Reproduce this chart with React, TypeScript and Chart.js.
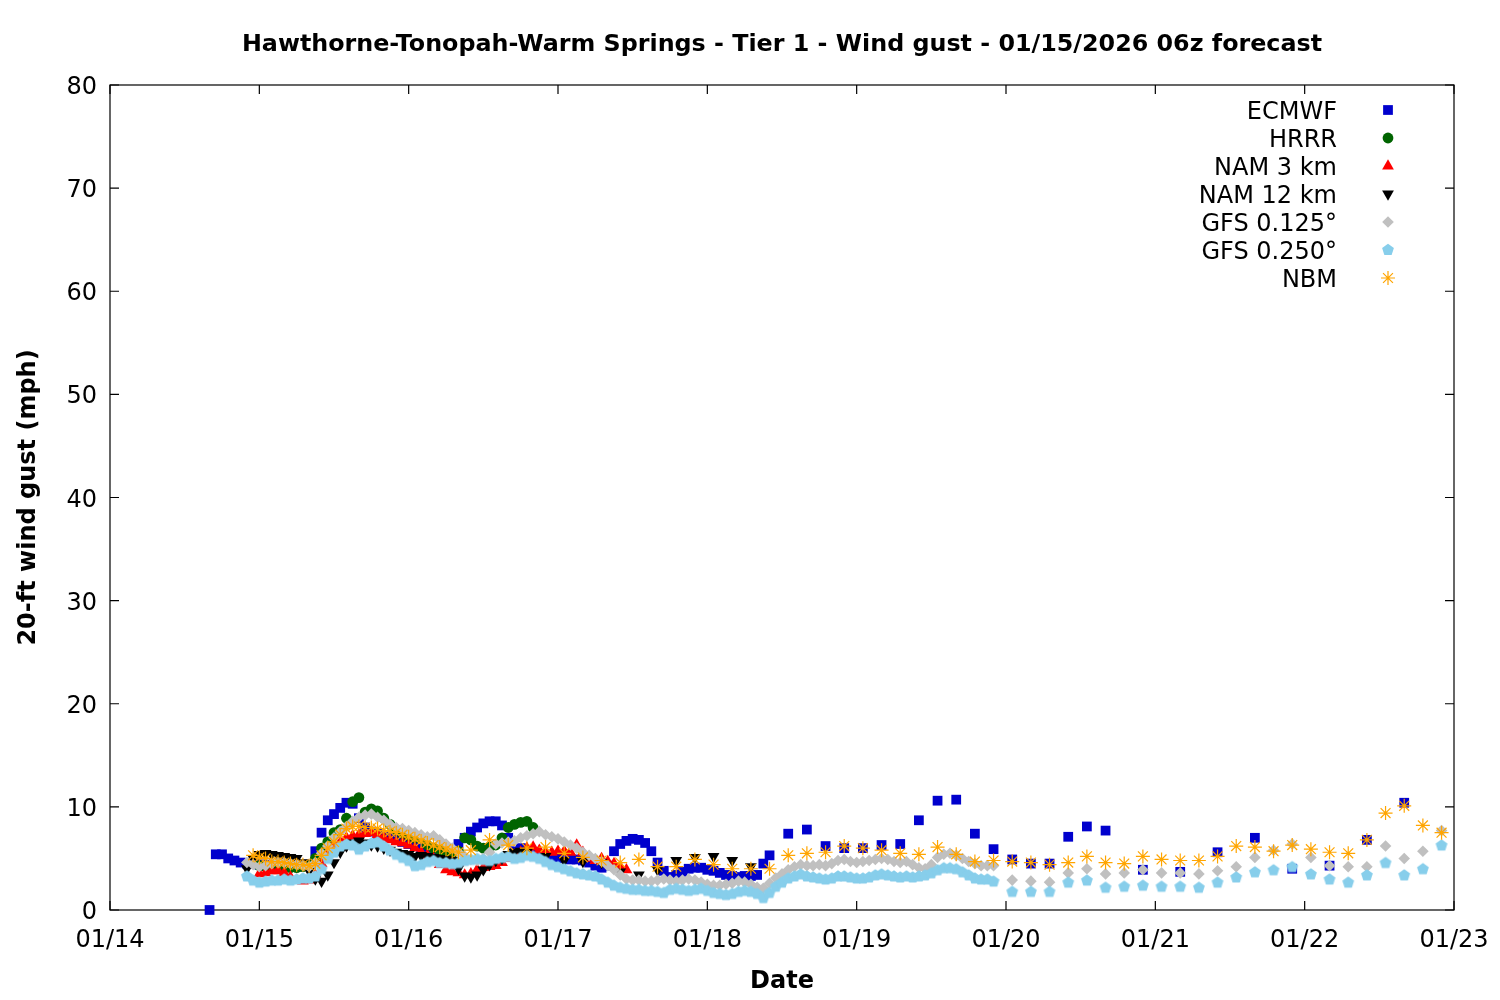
import React, { useEffect, useRef } from 'react';
import { Chart, registerables } from 'chart.js';

Chart.register(...registerables);

const TITLE = 'Hawthorne-Tonopah-Warm Springs - Tier 1 - Wind gust - 01/15/2026 06z forecast';
const X_TITLE = 'Date';
const Y_TITLE = '20-ft wind gust (mph)';
const dateLabels = ['01/14', '01/15', '01/16', '01/17', '01/18', '01/19', '01/20', '01/21', '01/22', '01/23'];
const yTicks = [0, 10, 20, 30, 40, 50, 60, 70, 80];
const HOURS_PER_DAY = 24;

// x values are hours since 01/14 00z
// ECMWF
const ecmwfHourlyStart = 16;
const ecmwfHourly = [
  0, 5.4, 5.4, 5.0, 4.8, 4.6, 4.5, 4.5, 4.4, 4.4, 4.3, 4.3, 4.2, 4.2, 4.2, 4.3, 4.4,
  5.7, 7.5, 8.7, 9.3, 9.9, 10.4, 10.3, 8.9, 8.0, 7.6, 7.4, 7.2, 7.0, 6.8, 6.6, 6.4,
  6.2, 6.0, 5.8, 5.7, 5.6, 5.6, 5.8, 6.4, 7.0, 7.6, 8.0, 8.4, 8.6, 8.6, 8.2, 7.0,
  5.7, 6.0, 5.6, 5.5, 5.4, 5.3, 5.2, 5.1, 5.0, 4.9, 4.9, 4.8, 4.6, 4.3, 4.1, 4.3,
  5.7, 6.4, 6.7, 6.9, 6.8, 6.5, 5.7, 4.6, 3.8, 3.2, 3.4, 3.7, 4.0, 4.1, 4.1, 3.9,
  3.8, 3.6, 3.4, 3.3, 3.2, 3.3, 3.3, 3.4, 4.5, 5.3,
];
const ecmwf3hStart = 109;
const ecmwf3h = [7.4, 7.8, 6.2, 6.0, 6.0, 6.3, 6.4, 8.7, 10.6, 10.7, 7.4, 5.9, 4.9, 4.5, 4.5, 7.1, 8.1, 7.7];
const ecmwf6hStart = 166;
const ecmwf6h = [3.9, 3.7, 5.6, 7.0, 4.0, 4.3, 6.8, 10.4];

// HRRR
const hrrrStart = 24;
const hrrrHourly = [
  4.3, 4.2, 4.0, 4.0, 4.1, 4.1, 4.1, 4.2, 4.3, 5.0, 6.0, 6.6, 7.5, 7.8, 8.9, 10.5,
  10.9, 9.5, 9.8, 9.6, 8.9, 8.3, 7.8, 7.4, 7.2, 7.0, 7.0, 6.3, 6.0, 5.8, 5.6, 5.5,
  5.7, 7.0, 6.8, 6.2, 6.0, 6.1, 6.3, 7.0, 8.0, 8.3, 8.5, 8.6, 8.0,
];

// NAM 3 km
const nam3Start = 24;
const nam3Hourly = [
  3.5, 3.6, 3.8, 3.8, 3.6, 3.2, 2.9, 2.8, 2.9, 3.4,
  4.5, 5.6, 6.3, 6.6, 7.0, 7.2, 7.3, 7.4, 7.5, 7.3,
  7.0, 6.8, 6.6, 6.5, 6.3, 6.0, 5.6, 5.3, 5.0, 4.4,
  3.9, 3.7, 3.6, 3.4, 3.5, 3.9, 4.1, 4.2, 4.3, 4.6,
  5.0, 5.3, 5.6, 6.0, 6.1, 5.8, 5.6, 5.6, 5.7, 5.7,
  5.6, 6.3, 5.6, 5.0, 4.8, 5.0, 4.7, 4.5, 4.2, 3.9,
];

// NAM 12 km
const nam12Start = 22;
const nam12Hourly = [
  4.0, 5.0, 5.4, 5.5, 5.4, 5.3, 5.2, 5.1, 5.0, 4.6,
  3.8, 3.0, 2.8, 3.4, 4.6, 5.6, 6.2, 6.5, 6.7, 6.5,
  6.3, 6.2, 6.0, 5.8, 5.6, 5.5, 5.4, 5.2, 5.3, 5.2,
  5.1, 5.0, 4.9, 4.8, 4.0, 3.3, 3.2, 3.4, 3.9, 4.4,
  4.8, 5.0, 5.4, 5.6, 5.7, 5.6,
];
const nam12_3hStart = 70;
const nam12_3h = [5.2, 4.8, 4.7, 4.6, 3.7, 3.4, 3.9, 4.8, 5.1, 5.2, 4.8, 4.2];

// GFS 0.125
const gfs125Start = 22;
const gfs125Hourly = [
  4.6, 4.4, 4.2, 4.3, 4.5, 4.6, 4.6, 4.5, 4.4, 4.3, 4.2,
  4.6, 5.5, 6.2, 7.0, 7.6, 8.1, 8.6, 9.0, 9.2, 9.3,
  9.0, 8.7, 8.3, 8.0, 7.9, 7.7, 7.5, 7.3, 7.1, 7.2,
  6.8, 6.4, 6.0, 5.6, 5.2, 4.9, 4.8, 5.0, 5.6, 6.4,
  6.5, 6.6, 6.7, 7.0, 7.2, 7.4, 7.6, 7.3, 7.1, 6.9,
  6.6, 6.3, 6.0, 5.6, 5.3, 5.0, 4.7, 4.3, 3.9, 3.4,
  3.0, 2.9, 2.9, 2.8, 2.8, 2.9, 3.0, 2.9, 2.8, 2.9,
  3.0, 2.9, 2.7, 2.5, 2.4, 2.4, 2.5, 2.6, 2.8, 2.7,
  2.5, 2.2, 2.1, 2.6, 3.1, 3.5, 3.9, 4.2, 4.4, 4.3,
  4.3, 4.4, 4.3, 4.5, 4.8, 4.9, 4.7, 4.6, 4.7, 4.8,
  4.9, 5.0, 4.9, 4.7, 4.6, 4.7, 4.4, 4.1, 4.0, 4.4,
  5.1, 5.4, 5.5, 5.3, 5.0, 4.7, 4.5, 4.3, 4.3, 4.3,
];
const gfs125_3hStart = 145;
const gfs125_3h = [2.9, 2.8, 2.7, 3.6, 4.0, 3.5, 3.6, 3.9, 3.6, 3.6, 3.5, 3.8, 4.2, 5.1, 5.8, 6.4, 5.1, 4.3, 4.2, 4.2, 6.2, 5.0, 5.7, 7.7];

// GFS 0.250
const gfs250Start = 22;
const gfs250Hourly = [
  3.3, 2.9, 2.7, 2.8, 2.9, 2.9, 3.0, 2.9, 3.0, 3.1, 3.1,
  3.3, 4.0, 5.0, 5.6, 6.2, 6.4, 6.3, 5.9, 6.2, 6.5,
  6.6, 6.2, 5.8, 5.4, 5.1, 4.8, 4.3, 4.4, 4.7, 4.8,
  4.6, 4.6, 4.5, 4.6, 4.8, 4.9, 5.0, 4.9, 4.8, 5.0,
  5.1, 5.2, 5.0, 5.1, 5.3, 5.2, 5.0, 4.7, 4.4, 4.2,
  4.0, 3.8, 3.6, 3.5, 3.4, 3.3, 3.0, 2.7, 2.4, 2.2,
  2.1, 2.0, 2.0, 1.9, 1.9, 1.8, 1.7, 2.0, 2.1, 2.0,
  1.9, 2.0, 2.1, 1.9, 1.7, 1.6, 1.5, 1.6, 1.8, 1.9,
  1.8, 1.6, 1.2, 1.7, 2.3, 2.7, 3.1, 3.3, 3.5, 3.3,
  3.2, 3.1, 3.0, 3.1, 3.3, 3.3, 3.2, 3.1, 3.1, 3.2,
  3.4, 3.5, 3.4, 3.3, 3.2, 3.3, 3.2, 3.3, 3.4, 3.6,
  3.9, 4.1, 4.1, 4.0, 3.7, 3.4, 3.1, 3.0, 3.0, 2.8,
];
const gfs250_3hStart = 145;
const gfs250_3h = [1.8, 1.8, 1.8, 2.7, 2.9, 2.2, 2.3, 2.4, 2.3, 2.3, 2.2, 2.7, 3.2, 3.7, 3.9, 4.2, 3.5, 3.0, 2.7, 3.4, 4.6, 3.4, 4.0, 6.3];

// NBM
const nbmStart = 23;
const nbmHourly = [
  5.3, 5.1, 5.0, 4.7, 4.7, 4.6, 4.5, 4.4, 4.4, 4.3,
  4.5, 5.3, 6.0, 6.6, 7.3, 7.9, 8.1, 8.1, 8.0, 8.0,
  7.9, 7.7, 7.6, 7.5, 7.3, 7.1, 6.9, 6.7, 6.5, 6.3,
  6.1, 5.9, 5.7, 5.6,
];
const nbm3hStart = 58;
const nbm3h = [
  5.8, 6.8, 6.3, 6.0, 6.1, 5.5, 5.1, 4.8, 4.6, 4.9,
  4.2, 4.2, 4.9, 4.4, 4.0, 4.0, 4.0, 5.3, 5.5, 5.6,
  6.2, 6.0, 5.8, 5.5, 5.4, 6.1, 5.4, 4.7, 4.8, 4.7,
  4.6, 4.4, 4.6, 5.2, 4.6, 4.5, 5.2, 4.9, 4.8, 4.8,
  5.2, 6.2, 6.1, 5.7, 6.3, 5.9, 5.6, 5.5, 6.8, 9.4,
  10.1, 8.2, 7.5,
];

const FONT = "'DejaVu Sans', sans-serif";

type Pt = { x: number; y: number };
const seg = (start: number, step: number, values: number[]): Pt[] =>
  values.map((v, i) => ({ x: start + i * step, y: v }));

type Kind = 'square' | 'circle' | 'triUp' | 'triDown' | 'diamond' | 'pentagon' | 'star';

const seriesDefs: { label: string; color: string; kind: Kind; data: Pt[] }[] = [
  { label: 'ECMWF', color: '#0000cd', kind: 'square', data: [...seg(ecmwfHourlyStart, 1, ecmwfHourly), ...seg(ecmwf3hStart, 3, ecmwf3h), ...seg(ecmwf6hStart, 6, ecmwf6h)] },
  { label: 'HRRR', color: '#006400', kind: 'circle', data: seg(hrrrStart, 1, hrrrHourly) },
  { label: 'NAM 3 km', color: '#ff0000', kind: 'triUp', data: seg(nam3Start, 1, nam3Hourly) },
  { label: 'NAM 12 km', color: '#000000', kind: 'triDown', data: [...seg(nam12Start, 1, nam12Hourly), ...seg(nam12_3hStart, 3, nam12_3h)] },
  { label: 'GFS 0.125°', color: '#c0c0c0', kind: 'diamond', data: [...seg(gfs125Start, 1, gfs125Hourly), ...seg(gfs125_3hStart, 3, gfs125_3h)] },
  { label: 'GFS 0.250°', color: '#87ceeb', kind: 'pentagon', data: [...seg(gfs250Start, 1, gfs250Hourly), ...seg(gfs250_3hStart, 3, gfs250_3h)] },
  { label: 'NBM', color: '#ffa500', kind: 'star', data: [...seg(nbmStart, 1, nbmHourly), ...seg(nbm3hStart, 3, nbm3h)] },
];

const SQ = 6.9;   // rect radius (side = SQ*sqrt2)
const CIR = 5.4;
const TRI = 6.8;
const DIA = 5.8;
const PEN = 6.2;
const STAR = 7;

function drawMarker(ctx: CanvasRenderingContext2D, kind: Kind, x: number, y: number, color: string) {
  ctx.save();
  ctx.fillStyle = color;
  ctx.strokeStyle = color;
  ctx.beginPath();
  if (kind === 'square') {
    const h = SQ * Math.SQRT1_2;
    ctx.rect(x - h, y - h, 2 * h, 2 * h);
    ctx.fill();
  } else if (kind === 'circle') {
    ctx.arc(x, y, CIR, 0, Math.PI * 2);
    ctx.fill();
  } else if (kind === 'triUp' || kind === 'triDown') {
    const r = TRI;
    const s = kind === 'triUp' ? -1 : 1;
    ctx.moveTo(x, y + s * r);
    ctx.lineTo(x + r * 0.866, y - s * r * 0.5);
    ctx.lineTo(x - r * 0.866, y - s * r * 0.5);
    ctx.closePath();
    ctx.fill();
  } else if (kind === 'diamond') {
    ctx.moveTo(x, y - DIA);
    ctx.lineTo(x + DIA, y);
    ctx.lineTo(x, y + DIA);
    ctx.lineTo(x - DIA, y);
    ctx.closePath();
    ctx.fill();
  } else if (kind === 'pentagon') {
    for (let k = 0; k < 5; k++) {
      const a = -Math.PI / 2 + (k * 2 * Math.PI) / 5;
      const px = x + PEN * Math.cos(a);
      const py = y + PEN * Math.sin(a);
      if (k === 0) ctx.moveTo(px, py);
      else ctx.lineTo(px, py);
    }
    ctx.closePath();
    ctx.fill();
  } else if (kind === 'star') {
    const r = STAR;
    const d = r * Math.SQRT1_2;
    ctx.lineWidth = 1.2;
    ctx.moveTo(x - r, y); ctx.lineTo(x + r, y);
    ctx.moveTo(x, y - r); ctx.lineTo(x, y + r);
    ctx.moveTo(x - d, y - d); ctx.lineTo(x + d, y + d);
    ctx.moveTo(x - d, y + d); ctx.lineTo(x + d, y - d);
    ctx.stroke();
  }
  ctx.restore();
}

function makePentagon(color: string): HTMLCanvasElement {
  const c = document.createElement('canvas');
  c.width = 14;
  c.height = 14;
  const g = c.getContext('2d')!;
  drawMarker(g, 'pentagon', 7, 7.4, color);
  return c;
}

const decorPlugin = {
  id: 'decor',
  beforeDatasetsDraw(chart: any) {
    const { ctx, chartArea: a, scales } = chart;
    const xs = scales.x;
    const ys = scales.y;
    ctx.save();
    ctx.strokeStyle = '#000';
    ctx.lineWidth = 1.2;
    ctx.strokeRect(a.left, a.top, a.right - a.left, a.bottom - a.top);
    const tl = 9;
    ctx.beginPath();
    dateLabels.forEach((_, i) => {
      const px = xs.getPixelForValue(i * HOURS_PER_DAY);
      ctx.moveTo(px, a.bottom); ctx.lineTo(px, a.bottom - tl);
      ctx.moveTo(px, a.top); ctx.lineTo(px, a.top + tl);
    });
    yTicks.forEach((v) => {
      const py = ys.getPixelForValue(v);
      ctx.moveTo(a.left, py); ctx.lineTo(a.left + tl, py);
      ctx.moveTo(a.right, py); ctx.lineTo(a.right - tl, py);
    });
    ctx.stroke();
    ctx.restore();
  },
  afterDraw(chart: any) {
    const { ctx, chartArea: a, scales } = chart;
    const xs = scales.x;
    const ys = scales.y;
    ctx.save();
    ctx.fillStyle = '#000';
    ctx.textBaseline = 'alphabetic';
    ctx.font = `24px ${FONT}`;
    ctx.textAlign = 'center';
    dateLabels.forEach((lab, i) => {
      ctx.fillText(lab, xs.getPixelForValue(i * HOURS_PER_DAY), a.bottom + 37);
    });
    ctx.textAlign = 'right';
    yTicks.forEach((v) => {
      ctx.fillText(String(v), a.left - 13, ys.getPixelForValue(v) + 9);
    });
    const cx = (a.left + a.right) / 2;
    ctx.font = `bold 23.8px ${FONT}`;
    ctx.textAlign = 'center';
    ctx.fillText(TITLE, cx, 51);
    ctx.font = `bold 24px ${FONT}`;
    ctx.fillText(X_TITLE, cx, 988);
    ctx.save();
    ctx.translate(35, (a.top + a.bottom) / 2);
    ctx.rotate(-Math.PI / 2);
    ctx.fillText(Y_TITLE, 0, 0);
    ctx.restore();
    // legend
    ctx.font = `24px ${FONT}`;
    ctx.textAlign = 'right';
    seriesDefs.forEach((s, i) => {
      const base = 119 + i * 28;
      ctx.fillStyle = '#000';
      ctx.fillText(s.label, 1337, base);
      drawMarker(ctx, s.kind, 1388, base - 9, s.color);
    });
    ctx.restore();
  },
};

export default function App() {
  const ref = useRef<HTMLCanvasElement | null>(null);
  useEffect(() => {
    if (!ref.current) return;
    const pent = makePentagon('#87ceeb');
    const styleFor = (k: Kind): any => {
      switch (k) {
        case 'square': return { pointStyle: 'rect', radius: SQ, rot: 0 };
        case 'circle': return { pointStyle: 'circle', radius: CIR, rot: 0 };
        case 'triUp': return { pointStyle: 'triangle', radius: TRI, rot: 0 };
        case 'triDown': return { pointStyle: 'triangle', radius: TRI, rot: 180 };
        case 'diamond': return { pointStyle: 'rectRot', radius: DIA, rot: 0 };
        case 'pentagon': return { pointStyle: pent, radius: PEN, rot: 0 };
        default: return { pointStyle: 'star', radius: STAR, rot: 0 };
      }
    };
    const chart = new Chart(ref.current, {
      type: 'scatter',
      data: {
        datasets: seriesDefs.map((s, i) => {
          const st = styleFor(s.kind);
          return {
            label: s.label,
            data: s.data,
            showLine: false,
            pointStyle: st.pointStyle,
            pointRadius: st.radius,
            pointRotation: st.rot,
            pointBackgroundColor: s.color,
            pointBorderColor: s.color,
            pointBorderWidth: s.kind === 'star' ? 1.2 : 0,
            order: seriesDefs.length - i,
            clip: false as any,
          };
        }),
      },
      options: {
        responsive: false,
        animation: false,
        devicePixelRatio: 1,
        events: [],
        layout: { padding: { left: 110, right: 46, top: 85, bottom: 90 } },
        plugins: { legend: { display: false }, tooltip: { enabled: false }, title: { display: false } },
        scales: {
          x: { type: 'linear', min: 0, max: dateLabels.length * HOURS_PER_DAY - HOURS_PER_DAY, display: false },
          y: { type: 'linear', min: 0, max: 80, display: false },
        },
      },
      plugins: [decorPlugin],
    });
    return () => chart.destroy();
  }, []);
  return (
    <div style={{ position: 'absolute', left: 0, top: 0, width: 1500, height: 1000, background: '#fff' }}>
      <canvas ref={ref} width={1500} height={1000} style={{ display: 'block' }} />
    </div>
  );
}
